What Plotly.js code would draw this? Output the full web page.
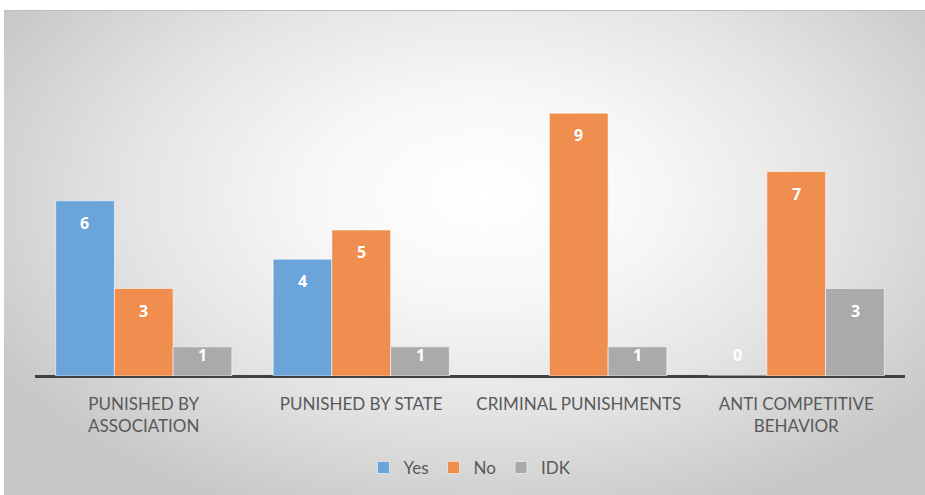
<!DOCTYPE html>
<html>
<head>
<meta charset="utf-8">
<script src="https://cdn.plot.ly/plotly-3.0.1.min.js"></script>
<style>
  html, body { margin: 0; padding: 0; width: 925px; height: 495px; background: #ffffff; overflow: hidden; }
  #bg { position: absolute; left: 4px; top: 10px; width: 921px; height: 485px;
        border-top: 1px solid #bdbdbd;
        background: radial-gradient(ellipse 62% 72% at 52% 38%, #ffffff 0%, #f7f7f7 30%, #e4e4e4 62%, #c6c6c6 100%); }
  #chart { position: absolute; left: 0; top: 0; width: 925px; height: 495px; }
</style>
</head>
<body>
<div id="bg"></div>
<div id="chart"></div>
<script>
const categories = ["PUNISHED BY<br>ASSOCIATION", "PUNISHED BY STATE", "CRIMINAL PUNISHMENTS", "ANTI COMPETITIVE<br>BEHAVIOR"];
const yesValues = [6, 4, null, 0];
const noValues = [3, 5, 9, 7];
const idkValues = [1, 1, 1, 3];
const seriesNames = ["Yes", "No", "IDK"];

const colors = ["#6aa4d8", "#ef8e4e", "#aaaaaa"];
const seriesData = [yesValues, noValues, idkValues];
const offsets = [-59, 0, 59];

const traces = seriesData.map((vals, i) => ({
  type: "bar",
  name: seriesNames[i],
  x: categories,
  y: vals,
  marker: { color: colors[i], line: { color: "rgba(255,255,255,0.55)", width: 1 } },
  hoverinfo: "skip"
}));

const annotations = [];
seriesData.forEach((vals, i) => {
  vals.forEach((v, j) => {
    if (v === null || v === undefined) return;
    annotations.push({
      x: categories[j], y: Math.max(v - 0.76, 0.72), xref: "x", yref: "y",
      xshift: offsets[i], text: "<b>" + v + "</b>", showarrow: false,
      font: { family: "Open Sans, sans-serif", size: 16, color: "#ffffff" },
      xanchor: "center", yanchor: "middle"
    });
  });
});

const layout = {
  width: 925, height: 495,
  paper_bgcolor: "rgba(0,0,0,0)", plot_bgcolor: "rgba(0,0,0,0)",
  margin: { l: 35, r: 20, t: 84, b: 119, autoexpand: false },
  barmode: "group", bargap: 0.19, bargroupgap: 0,
  showlegend: true,
  legend: { orientation: "h", x: 0.5, xanchor: "center", y: -0.315, yanchor: "middle",
            font: { family: "Lato, sans-serif", size: 17, color: "#595959" },
            itemwidth: 30, tracegroupgap: 0, bgcolor: "rgba(0,0,0,0)" },
  xaxis: { type: "category", automargin: false, showgrid: false, zeroline: false, showline: false,
           ticks: "", ticklabelstandoff: 16,
           tickfont: { family: "Lato, sans-serif", size: 17, color: "#595959" } },
  yaxis: { range: [0, 10], automargin: false, visible: true, showticklabels: false, ticks: "", showgrid: false,
           zeroline: true, zerolinecolor: "#404040", zerolinewidth: 3, fixedrange: true },
  annotations: annotations,
  font: { family: "Lato, sans-serif" }
};

Plotly.newPlot("chart", traces, layout, { displayModeBar: false, staticPlot: true });
</script>
</body>
</html>
